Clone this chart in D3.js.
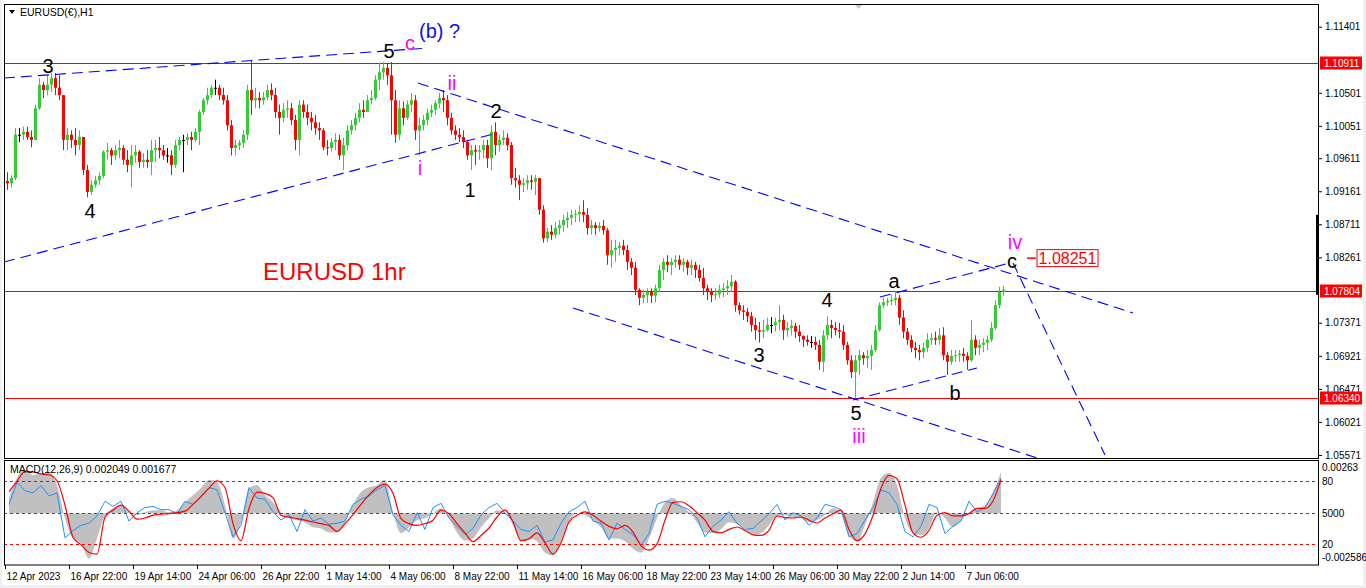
<!DOCTYPE html>
<html>
<head>
<meta charset="utf-8">
<title>EURUSD 1hr</title>
<script src="https://d3js.org/d3.v7.min.js"></script>
<style>
  html, body { margin: 0; padding: 0; background: #f0f0f0; }
  svg { display: block; font-family: "Liberation Sans", Arial, sans-serif; }
  .axis text { font-size: 10px; fill: #000; }
  .axis line { stroke: #000; }
  .axis path { display: none; }
  .wave { font-size: 20px; text-anchor: middle; }
</style>
</head>
<body>
<div id="chart"></div>
<script>
// ---- data (4-hour candles, hour index = 4 * bar) ----
var firstOpen = 1.0930;
var highs = [
  1.0942,1.0938,1.1002,1.1002,1.1004,1.1004,1.0999,1.1034,1.1070,1.1065,
  1.1074,1.1077,1.1077,1.1074,1.1047,1.1002,1.0999,1.1002,1.0999,1.0986,
  1.0952,1.0931,1.0937,1.0942,1.0972,1.0982,1.0975,1.0979,1.0986,1.0979,
  1.0972,1.0979,1.0979,1.0972,1.0968,1.0972,1.0986,1.0986,1.0990,1.0979,
  1.0975,1.0972,1.0986,1.0990,1.0993,1.0995,1.0997,1.1002,1.1027,1.1043,
  1.1057,1.1061,1.1068,1.1061,1.1057,1.1047,1.1013,1.0986,1.0986,1.0999,
  1.1061,1.1095,1.1057,1.1051,1.1051,1.1061,1.1063,1.1057,1.1034,1.1036,
  1.1040,1.1036,1.1020,1.1040,1.1040,1.1034,1.1024,1.1020,1.1010,1.1002,
  1.0986,1.0989,1.0995,1.0993,1.0989,1.1006,1.1013,1.1023,1.1036,1.1040,
  1.1047,1.1054,1.1074,1.1091,1.1092,1.1091,1.1092,1.1054,1.1040,1.1038,
  1.1040,1.1050,1.1047,1.1016,1.1020,1.1029,1.1034,1.1040,1.1050,1.1054,
  1.1047,1.1023,1.1006,1.1002,1.0999,1.0986,1.0979,1.0979,1.0979,1.0986,
  1.0986,1.1006,1.1010,1.0993,1.0999,1.0995,1.0983,1.0948,1.0938,1.0934,
  1.0938,1.0938,1.0938,1.0934,1.0897,1.0866,1.0870,1.0874,1.0877,1.0884,
  1.0888,1.0891,1.0891,1.0897,1.0904,1.0893,1.0877,1.0874,1.0874,1.0877,
  1.0866,1.0850,1.0850,1.0847,1.0850,1.0843,1.0825,1.0820,1.0784,1.0782,
  1.0784,1.0784,1.0789,1.0816,1.0825,1.0829,1.0825,1.0829,1.0829,1.0825,
  1.0823,1.0823,1.0820,1.0816,1.0812,1.0789,1.0784,1.0784,1.0789,1.0791,
  1.0795,1.0802,1.0795,1.0765,1.0761,1.0757,1.0752,1.0744,1.0738,1.0741,
  1.0744,1.0745,1.0744,1.0761,1.0748,1.0738,1.0741,1.0737,1.0734,1.0720,
  1.0720,1.0719,1.0718,1.0714,1.0727,1.0746,1.0741,1.0738,1.0737,1.0734,
  1.0711,1.0693,1.0693,1.0700,1.0697,1.0700,1.0707,1.0734,1.0765,1.0771,
  1.0771,1.0775,1.0780,1.0775,1.0754,1.0730,1.0720,1.0711,1.0707,1.0710,
  1.0723,1.0723,1.0725,1.0730,1.0731,1.0697,1.0700,1.0700,1.0700,1.0703,
  1.0697,1.0741,1.0720,1.0714,1.0716,1.0720,1.0738,1.0768,1.0786,1.0787
];
var lows = [
  1.0918,1.0921,1.0931,1.0983,1.0986,1.0986,1.0976,1.0986,1.1027,1.1043,
  1.1047,1.1051,1.1047,1.1040,1.0972,1.0972,1.0975,1.0965,1.0972,1.0938,
  1.0908,1.0911,1.0921,1.0925,1.0934,1.0959,1.0952,1.0959,1.0961,1.0952,
  1.0942,1.0921,1.0955,1.0948,1.0948,1.0948,1.0938,1.0956,1.0961,1.0959,
  1.0955,1.0938,1.0948,1.0972,1.0942,1.0979,1.0972,1.0983,1.0979,1.1020,
  1.1034,1.1043,1.1047,1.1040,1.1034,1.0999,1.0965,1.0965,1.0972,1.0975,
  1.0986,1.1020,1.1029,1.1029,1.1034,1.1040,1.1040,1.1016,1.0993,1.1010,
  1.1016,1.1006,1.0972,1.0965,1.1016,1.1006,1.0999,1.0993,1.0986,1.0972,
  1.0965,1.0970,1.0972,1.0959,1.0945,1.0972,1.0993,1.0999,1.1010,1.1016,
  1.1024,1.1034,1.1040,1.1054,1.1068,1.1061,1.0993,1.0982,1.0986,1.1006,
  1.1013,1.1024,1.0986,1.0965,1.0999,1.1006,1.1017,1.1020,1.1029,1.1024,
  1.1006,1.0993,1.0986,1.0983,1.0975,1.0959,1.0945,1.0952,1.0959,1.0961,
  1.0948,1.0945,1.0965,1.0970,1.0979,1.0972,1.0925,1.0921,1.0904,1.0915,
  1.0918,1.0918,1.0911,1.0884,1.0846,1.0847,1.0850,1.0852,1.0857,1.0861,
  1.0866,1.0870,1.0874,1.0874,1.0874,1.0857,1.0857,1.0857,1.0861,1.0857,
  1.0816,1.0812,1.0820,1.0829,1.0829,1.0809,1.0802,1.0775,1.0761,1.0764,
  1.0764,1.0764,1.0765,1.0779,1.0795,1.0806,1.0802,1.0812,1.0809,1.0806,
  1.0802,1.0802,1.0798,1.0793,1.0775,1.0768,1.0765,1.0768,1.0771,1.0772,
  1.0775,1.0779,1.0752,1.0748,1.0741,1.0738,1.0725,1.0714,1.0710,1.0716,
  1.0725,1.0723,1.0725,1.0727,1.0714,1.0718,1.0720,1.0716,1.0711,1.0704,
  1.0706,1.0703,1.0700,1.0673,1.0670,1.0714,1.0716,1.0720,1.0716,1.0700,
  1.0680,1.0662,1.0635,1.0666,1.0680,1.0676,1.0673,1.0697,1.0725,1.0757,
  1.0760,1.0761,1.0761,1.0734,1.0716,1.0707,1.0697,1.0689,1.0686,1.0689,
  1.0697,1.0707,1.0707,1.0707,1.0686,1.0666,1.0680,1.0684,1.0684,1.0684,
  1.0673,1.0684,1.0693,1.0693,1.0697,1.0700,1.0711,1.0727,1.0757,1.0774
];
var closes = [
  1.0927,1.0934,1.0993,1.0993,1.0997,1.0990,1.0986,1.1029,1.1061,1.1054,
  1.1061,1.1070,1.1057,1.1047,1.0986,1.0993,1.0986,1.0979,1.0990,1.0945,
  1.0915,1.0925,1.0931,1.0937,1.0970,1.0972,1.0965,1.0972,1.0975,1.0959,
  1.0952,1.0965,1.0970,1.0956,1.0959,1.0956,1.0972,1.0975,1.0972,1.0965,
  1.0965,1.0952,1.0979,1.0986,1.0986,1.0990,1.0986,1.0997,1.1024,1.1040,
  1.1047,1.1057,1.1057,1.1047,1.1040,1.1006,1.0975,1.0979,1.0982,1.0993,
  1.1054,1.1040,1.1043,1.1040,1.1044,1.1054,1.1047,1.1024,1.1016,1.1027,
  1.1029,1.1013,1.0986,1.1034,1.1024,1.1016,1.1010,1.1002,1.0999,1.0976,
  1.0975,1.0983,1.0986,1.0965,1.0979,1.0999,1.1006,1.1016,1.1027,1.1024,
  1.1040,1.1043,1.1068,1.1078,1.1084,1.1074,1.1040,1.0993,1.1029,1.1016,
  1.1034,1.1040,1.0999,1.1006,1.1013,1.1023,1.1027,1.1036,1.1043,1.1040,
  1.1016,1.0999,1.0993,1.0990,1.0983,1.0965,1.0972,1.0970,1.0972,1.0979,
  1.0961,1.0997,1.0979,1.0986,1.0989,1.0979,1.0934,1.0931,1.0925,1.0927,
  1.0931,1.0929,1.0934,1.0891,1.0852,1.0861,1.0857,1.0866,1.0870,1.0877,
  1.0880,1.0884,1.0885,1.0888,1.0884,1.0866,1.0870,1.0866,1.0869,1.0863,
  1.0829,1.0836,1.0839,1.0842,1.0836,1.0820,1.0812,1.0782,1.0771,1.0775,
  1.0779,1.0774,1.0784,1.0809,1.0820,1.0816,1.0820,1.0823,1.0816,1.0820,
  1.0812,1.0816,1.0809,1.0798,1.0784,1.0779,1.0775,1.0776,1.0782,1.0784,
  1.0787,1.0793,1.0761,1.0754,1.0752,1.0746,1.0734,1.0727,1.0725,1.0727,
  1.0734,1.0734,1.0738,1.0741,1.0727,1.0730,1.0733,1.0725,1.0719,1.0714,
  1.0711,1.0711,1.0707,1.0684,1.0720,1.0734,1.0730,1.0727,1.0725,1.0707,
  1.0686,1.0670,1.0686,1.0693,1.0689,1.0692,1.0700,1.0727,1.0761,1.0765,
  1.0767,1.0768,1.0771,1.0744,1.0725,1.0714,1.0703,1.0700,1.0697,1.0703,
  1.0714,1.0716,1.0714,1.0720,1.0693,1.0684,1.0692,1.0693,1.0695,1.0692,
  1.0686,1.0714,1.0703,1.0707,1.0710,1.0714,1.0730,1.0761,1.0779,1.0782
];

// indicator window, one value every 8 hours (hour index = 8 * k + 4)
var macdMain = [
  7.6e-4,17.7e-4,21.7e-4,19e-4,20e-4,20.7e-4,14e-4,-2.5e-4,-12.6e-4,-15e-4,
  -22.7e-4,-12.6e-4,-1e-4,2.5e-4,4e-4,0.5e-4,-1e-4,0.5e-4,1.5e-4,1.5e-4,
  0.5e-4,1.5e-4,5.5e-4,9e-4,12.6e-4,16.7e-4,15.7e-4,4e-4,-12.6e-4,-4.5e-4,
  12.6e-4,14e-4,9e-4,5.5e-4,0.5e-4,-2e-4,-3.5e-4,-4.5e-4,-7e-4,-7.6e-4,
  -9.6e-4,-9.6e-4,-4.5e-4,4e-4,10.6e-4,13e-4,14e-4,16.7e-4,0.5e-4,-10e-4,
  -7e-4,-3.5e-4,-2.5e-4,0,2.5e-4,-2.5e-4,-9.6e-4,-13.6e-4,-12.6e-4,-7e-4,
  -2.5e-4,1.5e-4,0.5e-4,-6e-4,-14e-4,-12.6e-4,-14e-4,-19.7e-4,-21e-4,-14e-4,
  -4.5e-4,0,-1e-4,-3.5e-4,-7e-4,-12.6e-4,-12.6e-4,-14e-4,-17.7e-4,-19.7e-4,
  -12.6e-4,-2.5e-4,5.5e-4,7.6e-4,
  4e-4,0.5e-4,-4.5e-4,-9.6e-4,-10e-4,-8e-4,-4.5e-4,-5.5e-4,-7.6e-4,-11e-4,
  -10e-4,-6e-4,-1e-4,-1e-4,-2e-4,-2.5e-4,-4.5e-4,-3.5e-4,-1e-4,2.5e-4,
  0,-11e-4,-14e-4,-6e-4,5.5e-4,17.7e-4,20e-4,14e-4,-2.5e-4,-10e-4,
  -11e-4,-7.6e-4,0.5e-4,-2.5e-4,-7e-4,-3.5e-4,0.5e-4,2.5e-4,4e-4,10.6e-4,
  20.49e-4
];
var macdSignal = [
  10.8e-4,15.9e-4,20.9e-4,20.6e-4,19.6e-4,19.2e-4,16.2e-4,4e-4,-12e-4,-15.7e-4,
  -19.6e-4,-20.4e-4,-1.9e-4,1.5e-4,4e-4,1e-4,-3e-4,-2.4e-4,-1e-4,-0.5e-4,
  -0.2e-4,0.3e-4,1e-4,4.4e-4,8.3e-4,12.5e-4,16.2e-4,12.8e-4,-5.2e-4,-13.7e-4,
  2.4e-4,10.5e-4,9.9e-4,7.8e-4,-1e-4,-2e-4,-2.7e-4,-3.5e-4,-4.4e-4,-5.2e-4,
  -6.1e-4,-9.1e-4,-5.2e-4,-0.7e-4,4.4e-4,9.1e-4,12.8e-4,14.5e-4,9.9e-4,-2.7e-4,
  -5.2e-4,-6.1e-4,-5.2e-4,-3.5e-4,1.5e-4,-0.2e-4,-5.2e-4,-9.8e-4,-14.2e-4,-11.1e-4,
  -7.4e-4,-1.9e-4,1.5e-4,-4.4e-4,-13.7e-4,-12.8e-4,-9.8e-4,-14.8e-4,-20.4e-4,-14.8e-4,
  -4.4e-4,-1e-4,0.7e-4,-1e-4,-4e-4,-6.6e-4,-7.8e-4,-6.1e-4,-9.4e-4,-16.2e-4,
  -18.4e-4,-15.3e-4,-3.5e-4,5.4e-4,
  5.7e-4,3.7e-4,0.3e-4,-3.5e-4,-9.1e-4,-9.8e-4,-8.1e-4,-6.9e-4,-8.6e-4,-10.8e-4,
  -11.1e-4,-8.6e-4,-1.3e-4,-2.2e-4,-2.4e-4,-1.9e-4,-3.5e-4,-4.9e-4,-2.4e-4,-0.3e-4,
  1.5e-4,-8.1e-4,-13.7e-4,-10.3e-4,-1e-4,12.5e-4,18.9e-4,17.2e-4,4e-4,-9.8e-4,
  -12e-4,-8.6e-4,-1e-4,0.3e-4,-1.3e-4,-1.3e-4,-0.2e-4,2.4e-4,2.4e-4,6.1e-4,
  16.77e-4
];
var oscillator = [
  58,79,71,69,76,66,69,26,33,38,40,47,61,56,61,42,50,55,56,53,
  53,49,61,58,65,74,72,50,27,38,74,64,63,51,43,48,32,53,42,45,
  39,40,42,58,63,66,72,76,48,38,32,50,34,55,59,45,37,29,35,48,
  55,59,50,42,34,32,38,22,24,40,51,55,61,42,40,24,40,34,29,19,
  30,58,61,59,
  56,53,45,27,37,43,51,40,34,35,42,49,58,43,50,47,38,45,58,56,
  53,27,30,43,55,72,69,58,32,27,37,58,55,30,37,42,61,51,55,68,
  83
];
var oscLevels = [80, 50, 20];

// horizontal price lines and price axis ticks
var priceLines = [1.10911, 1.07804, 1.06340];
var priceTicks = [1.11401, 1.10501, 1.10051, 1.09611, 1.09161, 1.08711,
                  1.08261, 1.07371, 1.06921, 1.06471, 1.06021, 1.05571];
var xLabels = ["12 Apr 2023", "16 Apr 22:00", "19 Apr 14:00", "24 Apr 06:00",
               "26 Apr 22:00", "1 May 14:00", "4 May 06:00", "8 May 22:00",
               "11 May 14:00", "16 May 06:00", "18 May 22:00", "23 May 14:00",
               "26 May 06:00", "30 May 22:00", "2 Jun 14:00", "7 Jun 06:00"];
var xLabelHours = xLabels.map(function(d, i) { return 64 * i; });

// trend lines: [hour1, price1, hour2, price2]
var trendlines = [
  [-1, 1.10702, 423, 1.11111],
  [-1, 1.08198, 492, 1.09954],
  [413, 1.10634, 1128, 1.07504],
  [568, 1.07572, 1032, 1.05531],
  [875, 1.07722, 1005, 1.08185],
  [848, 1.06320, 972, 1.06756],
  [1008, 1.08185, 1100, 1.05571]
];
// wave labels: [text, hour, price, degree]
var waves = [
  ["3", 43, 1.10771, "minor"], ["4", 85, 1.08797, "minor"],
  ["5", 384, 1.10975, "minor"], ["c", 405, 1.11084, "minute"],
  ["i", 415, 1.09382, "minute"], ["ii", 447, 1.10539, "minute"],
  ["1", 465, 1.09083, "minor"], ["2", 491, 1.10158, "minor"],
  ["3", 754, 1.06837, "minor"], ["4", 822, 1.07586, "minor"],
  ["5", 851, 1.06048, "minor"], ["iii", 854, 1.05735, "minute"],
  ["a", 889, 1.07844, "minor"], ["b", 950, 1.06320, "minor"],
  ["c", 1007, 1.08117, "minor"], ["iv", 1010, 1.08372, "minute"]
];
var waveB = ["(b) ?", 414, 1.11247];
var target = 1.08251;
var lastMacd = 0.002049, lastSignal = 0.001677;

// ---- layout ----
var W = 1366, H = 588;
var L = 4, R = 1318, T = 4, B = 458, MT = 460.5, MB = 565;
var waveColor = { minor: "#000000", minute: "#ff00ff" };

var xs = d3.scaleLinear().domain([0, 1000]).range([5, 1005]);
var ys = d3.scaleLinear().domain([1.0553, 1.1171]).range([B, T]);
var ym = d3.scaleLinear().domain([-0.002586, 0.00263]).range([MB, MT]);
var yo = d3.scaleLinear().domain([0, 100]).range([MB, MT]);

var svg = d3.select("#chart").append("svg")
  .attr("width", W).attr("height", H);

svg.append("rect").attr("x", 2).attr("y", 0).attr("width", 1361).attr("height", 585)
  .attr("fill", "#fff");

var defs = svg.append("defs");
defs.append("clipPath").attr("id", "mainClip").append("rect")
  .attr("x", L).attr("y", T).attr("width", R - L).attr("height", B - T);
defs.append("clipPath").attr("id", "subClip").append("rect")
  .attr("x", L).attr("y", MT).attr("width", R - L).attr("height", MB - MT);

// ---- main window ----
var main = svg.append("g").attr("clip-path", "url(#mainClip)");

main.selectAll(".pline").data(priceLines).enter().append("line")
  .attr("x1", L).attr("x2", R)
  .attr("y1", function(d) { return Math.round(ys(d)) + 0.5; })
  .attr("y2", function(d) { return Math.round(ys(d)) + 0.5; })
  .attr("stroke", "#ff0000").attr("stroke-width", 1);

var bars = closes.map(function(c, i) {
  var o = i ? closes[i - 1] : firstOpen;
  return { h: 4 * i + 2, o: o, c: c,
           hi: Math.max(highs[i], o, c), lo: Math.min(lows[i], o, c) };
});
function barColor(d) {
  return d.c > d.o ? "#32cd32" : (d.c < d.o ? "#ff0000" : "#000000");
}
var candle = main.append("g").selectAll("g").data(bars).enter().append("g");
candle.append("line")
  .attr("x1", function(d) { return Math.round(xs(d.h)) + 0.5; })
  .attr("x2", function(d) { return Math.round(xs(d.h)) + 0.5; })
  .attr("y1", function(d) { return ys(d.hi); })
  .attr("y2", function(d) { return ys(d.lo); })
  .attr("stroke", barColor).attr("stroke-width", 1);
candle.append("rect")
  .attr("x", function(d) { return Math.round(xs(d.h)) - 1; })
  .attr("width", 3)
  .attr("y", function(d) { return ys(Math.max(d.o, d.c)); })
  .attr("height", function(d) { return Math.max(1, ys(Math.min(d.o, d.c)) - ys(Math.max(d.o, d.c))); })
  .attr("fill", barColor);

main.selectAll(".trend").data(trendlines).enter().append("line")
  .attr("x1", function(d) { return xs(d[0]); })
  .attr("y1", function(d) { return ys(d[1]); })
  .attr("x2", function(d) { return xs(d[2]); })
  .attr("y2", function(d) { return ys(d[3]); })
  .attr("stroke", "#0000ff").attr("stroke-width", 1.1)
  .attr("stroke-dasharray", "11,6");

main.selectAll(".wave").data(waves).enter().append("text")
  .attr("class", "wave")
  .attr("x", function(d) { return xs(d[1]); })
  .attr("y", function(d) { return ys(d[2]); })
  .attr("fill", function(d) { return waveColor[d[3]]; })
  .text(function(d) { return d[0]; });

main.append("text").attr("x", xs(waveB[1])).attr("y", ys(waveB[2]))
  .attr("font-size", 20).attr("fill", "#1010f0").attr("xml:space", "preserve")
  .text(waveB[0]);

main.append("text").attr("x", xs(258)).attr("y", ys(1.07953))
  .attr("font-size", 24).attr("fill", "#ff0000").text("EURUSD 1hr");

// target price box
var ty = ys(target);
main.append("line").attr("x1", xs(1022)).attr("x2", xs(1031))
  .attr("y1", ty).attr("y2", ty).attr("stroke", "#ff0000").attr("stroke-width", 1.5);
main.append("rect").attr("x", xs(1032)).attr("y", ty - 8.5)
  .attr("width", 61).attr("height", 17)
  .attr("fill", "#fff").attr("stroke", "#ff0000").attr("stroke-width", 1);
main.append("text").attr("x", xs(1032) + 30.5).attr("y", ty + 6)
  .attr("text-anchor", "middle").attr("font-size", 16).attr("fill", "#ff0000")
  .text(d3.format(".5f")(target));

// header
svg.append("path").attr("d", "M9,10L15,10L12,14Z").attr("fill", "#000");
svg.append("text").attr("x", 20).attr("y", 16).attr("font-size", 10.5)
  .attr("fill", "#000").text("EURUSD(\u20ac),H1");
svg.append("path").attr("d", "M854,4L863,4L858.5,9Z").attr("fill", "#c8c8c8");

// price axis
svg.append("g").attr("class", "axis").attr("transform", "translate(" + R + ",0)")
  .call(d3.axisRight(ys).tickValues(priceTicks).tickSize(4).tickPadding(3)
    .tickFormat(d3.format(".5f")));
svg.append("rect").attr("x", R - 2).attr("y", ys(1.0884)).attr("width", 3)
  .attr("height", ys(1.0775) - ys(1.0884)).attr("fill", "#000");
var tags = svg.append("g").selectAll("g").data(priceLines).enter().append("g")
  .attr("transform", function(d) { return "translate(" + (R + 2) + "," + Math.round(ys(d)) + ")"; });
tags.append("rect").attr("x", 0).attr("y", -6.5).attr("width", 42).attr("height", 13)
  .attr("fill", "#ff0000");
tags.append("text").attr("x", 4).attr("y", 4).attr("font-size", 10).attr("fill", "#fff")
  .text(function(d) { return d3.format(".5f")(d); });

// ---- indicator window ----
var sub = svg.append("g").attr("clip-path", "url(#subClip)");
var hOf = function(i) { return 8 * i + 4; };

sub.append("path").datum(macdMain)
  .attr("d", d3.area().curve(d3.curveMonotoneX)
    .x(function(d, i) { return xs(hOf(i)); })
    .y0(ym(0)).y1(function(d) { return ym(d); }))
  .attr("fill", "#c0c0c0");

sub.selectAll(".lvl").data(oscLevels).enter().append("line")
  .attr("x1", L).attr("x2", R)
  .attr("y1", function(d) { return Math.round(yo(d)) + 0.5; })
  .attr("y2", function(d) { return Math.round(yo(d)) + 0.5; })
  .attr("stroke", "#ff0000").attr("stroke-dasharray", "3,3");

sub.append("path").datum(oscillator)
  .attr("d", d3.line().x(function(d, i) { return xs(hOf(i)); })
    .y(function(d) { return yo(d); }))
  .attr("fill", "none").attr("stroke", "#1e90ff").attr("stroke-width", 1);

sub.append("path").datum(macdSignal)
  .attr("d", d3.line().curve(d3.curveMonotoneX)
    .x(function(d, i) { return xs(hOf(i)); })
    .y(function(d) { return ym(d); }))
  .attr("fill", "none").attr("stroke", "#ff0000").attr("stroke-width", 1.2);

svg.append("text").attr("x", 10).attr("y", 473).attr("font-size", 10.5).attr("fill", "#000")
  .text("MACD(12,26,9) " + lastMacd.toFixed(6) + " " + lastSignal.toFixed(6));

var subLabels = [
  [ym(0.00263) + 10, "0.00263"], [yo(80) + 4, "80"], [yo(50) + 4, "5000"],
  [yo(20) + 4, "20"], [ym(-0.002586) - 4, "-0.002586"]
];
svg.selectAll(".slab").data(subLabels).enter().append("text")
  .attr("x", R + 4).attr("y", function(d) { return d[0]; })
  .attr("font-size", 10).attr("fill", "#000").text(function(d) { return d[1]; });

// time axis
var xa = svg.append("g").attr("class", "axis").attr("transform", "translate(0," + MB + ")")
  .call(d3.axisBottom(xs).tickValues(xLabelHours).tickSize(4).tickSizeOuter(0)
    .tickFormat(function(d, i) { return xLabels[i]; }));
xa.selectAll("text").attr("text-anchor", "start").attr("x", 1).attr("dy", "0.8em");

// panel frames
svg.append("rect").attr("x", L + 0.5).attr("y", T + 0.5).attr("width", R - L)
  .attr("height", B - T).attr("fill", "none").attr("stroke", "#000");
svg.append("rect").attr("x", L + 0.5).attr("y", MT).attr("width", R - L)
  .attr("height", MB - MT).attr("fill", "none").attr("stroke", "#000");
</script>
</body>
</html>
